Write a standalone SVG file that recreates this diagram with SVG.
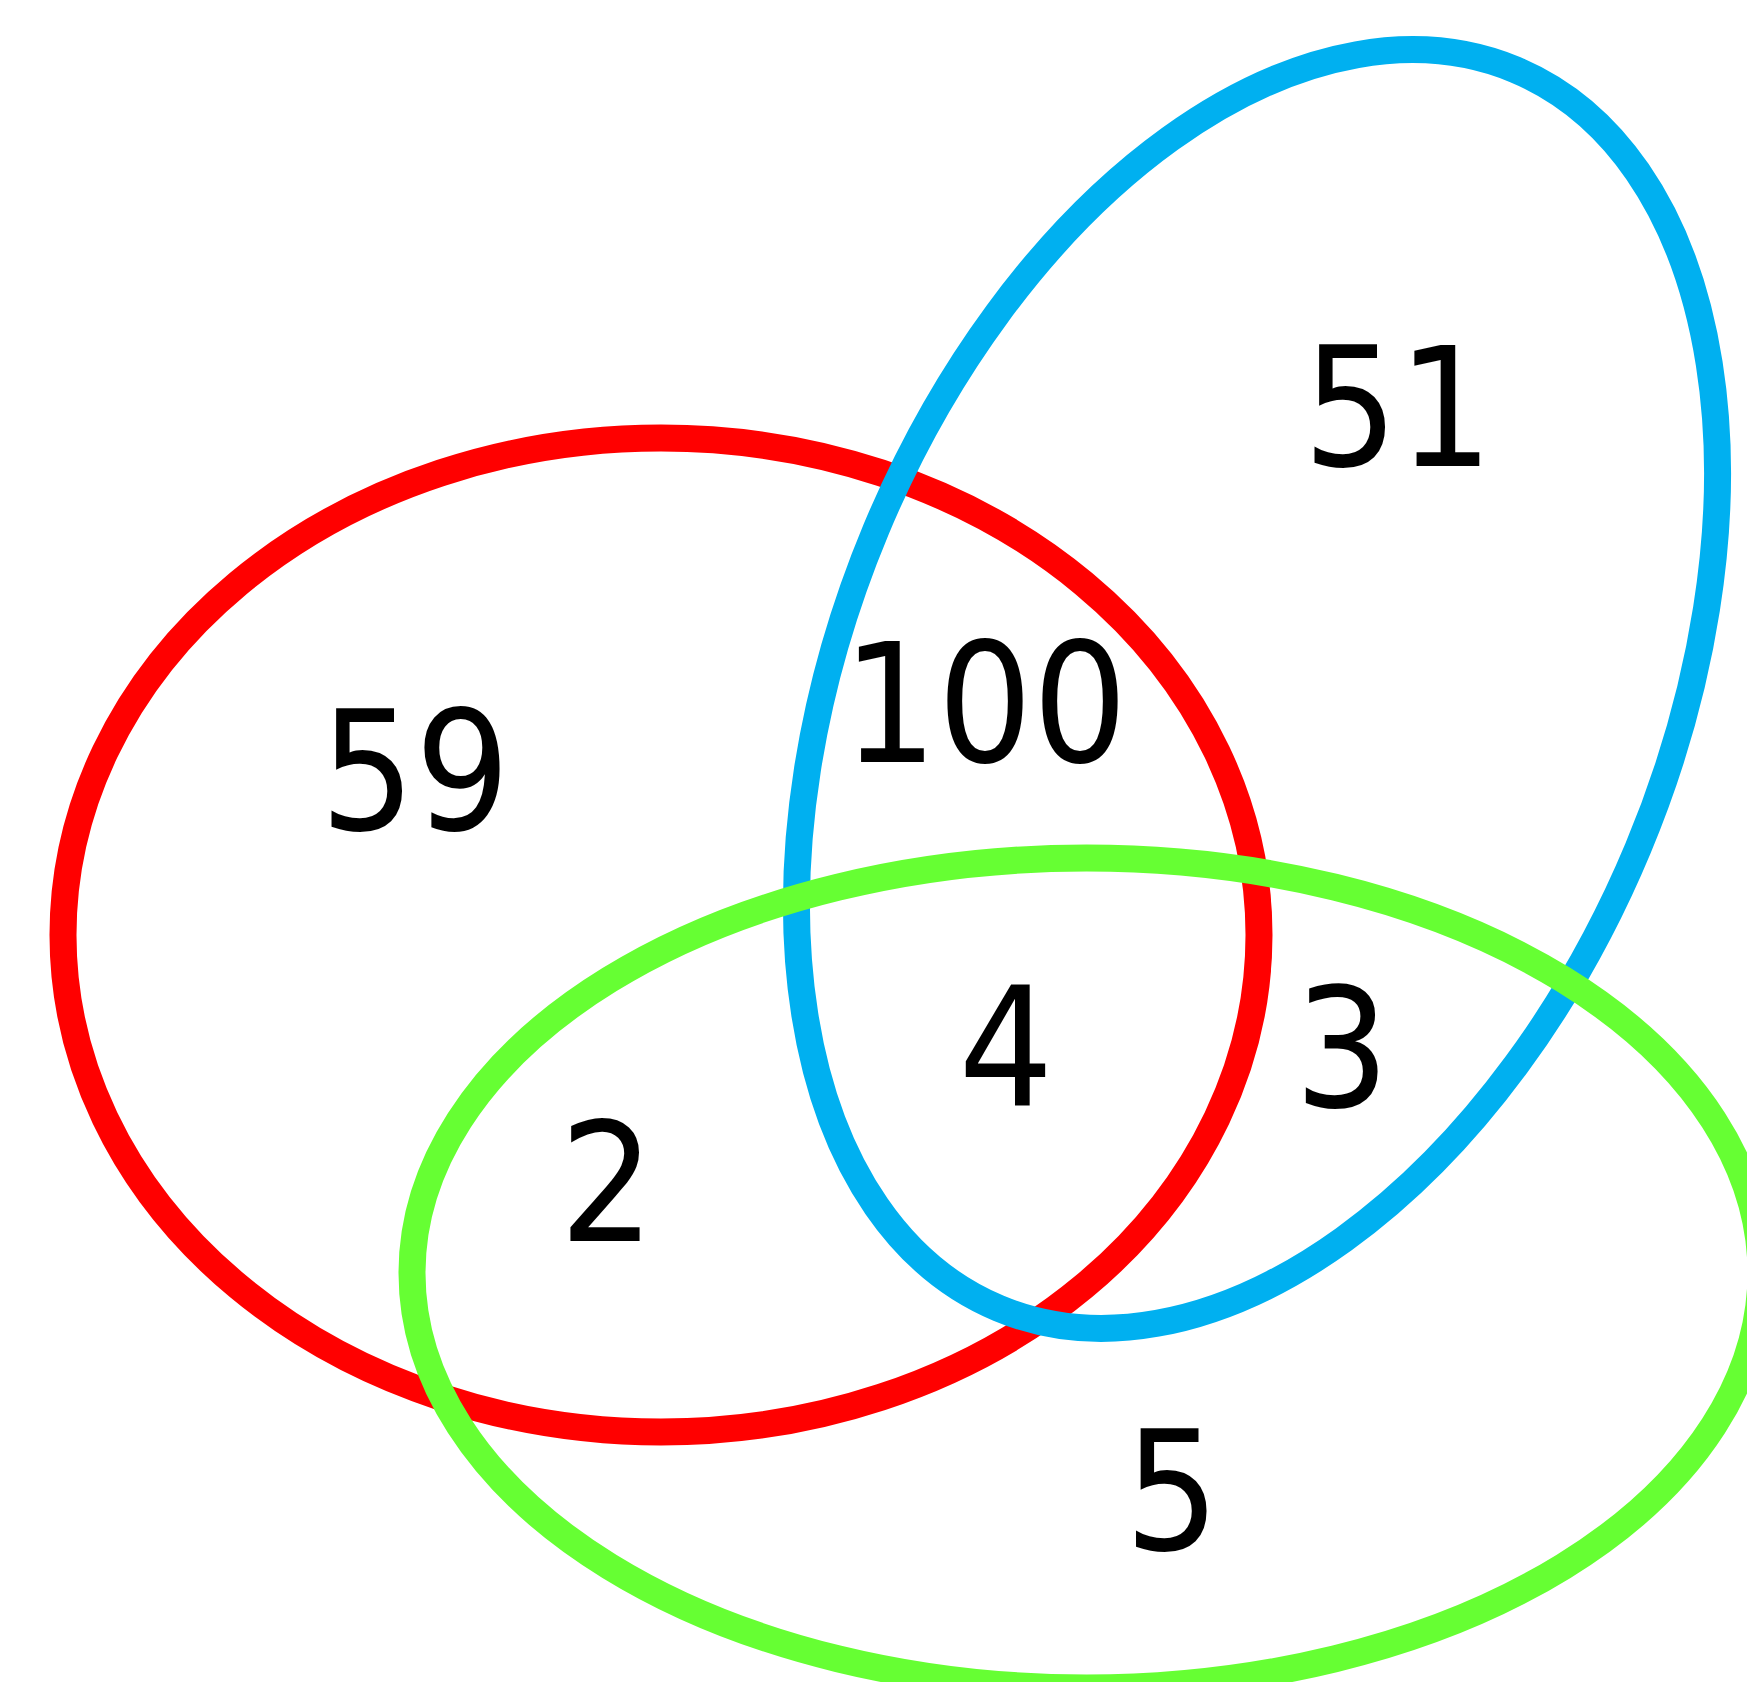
<svg xmlns="http://www.w3.org/2000/svg" width="1747" height="1682" viewBox="0 0 1747 1682">
<style>
.set{fill:none;stroke-width:27}
.lbl{font-family:"DejaVu Sans Condensed",Lato,"Liberation Sans",sans-serif;font-stretch:condensed;font-size:166px;fill:#000;text-anchor:middle}
</style>
<rect width="1747" height="1682" fill="#fff"/>
<g id="sets">
<g id="set-red"><ellipse class="set" cx="661" cy="935" rx="598" ry="497" stroke="#FF0000"/></g>
<g id="set-blue"><ellipse class="set" cx="0" cy="0" rx="671" ry="413" stroke="#00B0F0" transform="translate(1257 689) rotate(-67.35)"/></g>
<g id="set-green"><ellipse class="set" cx="1086.5" cy="1273" rx="674.5" ry="415" stroke="#66FF33"/></g>
</g>
<g id="connectors"></g>
<g id="labels">
<g id="region-red-only"><text class="lbl" x="415" y="830">59</text></g>
<g id="region-red-blue"><text class="lbl" x="985" y="762">100</text></g>
<g id="region-blue-only"><text class="lbl" x="1398" y="466">51</text></g>
<g id="region-all"><text class="lbl" x="1006" y="1106">4</text></g>
<g id="region-blue-green"><text class="lbl" x="1342" y="1107">3</text></g>
<g id="region-red-green"><text class="lbl" x="607" y="1241">2</text></g>
<g id="region-green-only"><text class="lbl" x="1172" y="1550">5</text></g>
</g>
</svg>
